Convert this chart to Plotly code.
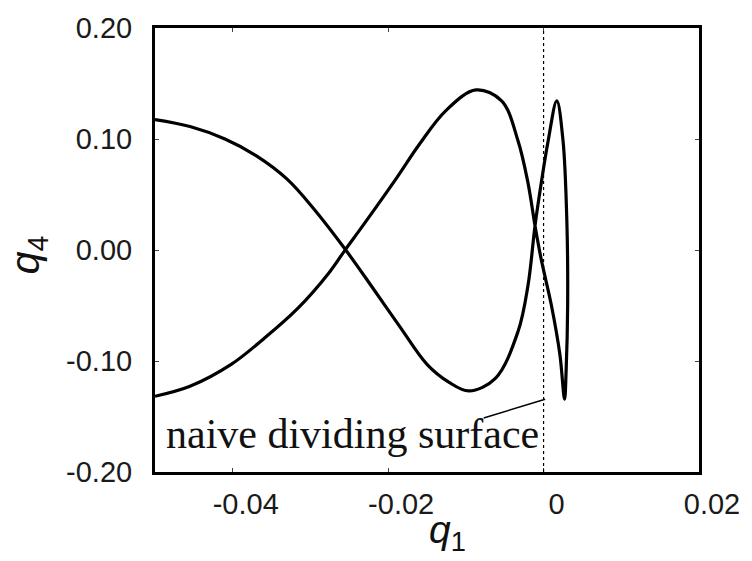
import plotly.graph_objects as go

# Trajectory in the (q1, q4) plane, traced as one continuous path:
# upper-left branch -> lower lobe -> narrow loop -> upper lobe -> lower-left branch
q1 = [-0.0500, -0.0455, -0.0410, -0.0370, -0.0330, -0.0295, -0.0255,
      -0.0220, -0.0185, -0.0150, -0.0122, -0.0096, -0.0062, -0.0033,
      -0.0020, -0.0011, -0.0003, 0.0006, 0.0017, 0.0025, 0.0030,
      0.0031, 0.0029, 0.0027, 0.0021, 0.0010, -0.0003, -0.0011,
      -0.0020, -0.0033, -0.0054, -0.0087, -0.0126, -0.0160, -0.0189,
      -0.0233, -0.0255, -0.0275, -0.0317, -0.0360, -0.0402, -0.0455, -0.0500]
q4 = [0.1175, 0.1112, 0.1000, 0.0850, 0.0638, 0.0365, 0.0004,
      -0.0340, -0.0690, -0.1030, -0.1190, -0.1270, -0.1156, -0.0737,
      -0.0317, 0.0219, 0.0603, 0.0987, 0.1344, 0.0987, 0.0246,
      -0.0496, -0.1094, -0.1344, -0.0942, -0.0496, -0.0085, 0.0219,
      0.0603, 0.0987, 0.1344, 0.1442, 0.1254, 0.0950, 0.0650,
      0.0215, 0.0004, -0.0195, -0.0531, -0.0799, -0.1031, -0.1228, -0.1318]

x_tick_vals = [-0.04, -0.02, 0, 0.02]
x_tick_text = ["-0.04", "-0.02", "0", "0.02"]
y_tick_vals = [0.20, 0.10, 0.00, -0.10, -0.20]
y_tick_text = ["0.20", "0.10", "0.00", "-0.10", "-0.20"]

x_range = [-0.05, 0.02]
y_range = [-0.20, 0.20]

surface_q1 = 0.0
label_text = "naive dividing surface"
label_pos = (-0.0489, -0.1655)
leader_start = (-0.0077, -0.1513)
leader_end = (0.0002, -0.1344)

fig = go.Figure()

fig.add_trace(go.Scatter(
    x=q1, y=q4, mode="lines",
    line=dict(color="black", width=3.2, shape="spline", smoothing=1.0),
    showlegend=False, hoverinfo="skip",
))

# dotted line marking the naive dividing surface
fig.add_shape(type="line", xref="x", yref="y",
              x0=surface_q1, x1=surface_q1, y0=y_range[0], y1=y_range[1],
              line=dict(color="black", width=1.2, dash="dot"))

# leader from the label to the dividing surface
fig.add_shape(type="line", xref="x", yref="y",
              x0=leader_start[0], y0=leader_start[1],
              x1=leader_end[0], y1=leader_end[1],
              line=dict(color="black", width=1.5))

fig.add_annotation(x=label_pos[0], y=label_pos[1], xref="x", yref="y",
                   text=label_text, showarrow=False,
                   xanchor="left", yanchor="middle",
                   font=dict(family="Liberation Serif", size=42, color="#111"))

axis_common = dict(
    showline=True, linecolor="black", linewidth=3, mirror="ticks",
    ticks="inside", ticklen=4, tickwidth=1, tickcolor="#444",
    showgrid=False, zeroline=False,
    tickfont=dict(family="Liberation Sans", size=29, color="#1a1a1a"),
)

fig.update_xaxes(range=x_range, tickvals=x_tick_vals, ticktext=x_tick_text,
                 ticklabelshift=13, ticklabelstandoff=4, **axis_common)
fig.update_yaxes(range=y_range, tickvals=y_tick_vals, ticktext=y_tick_text,
                 ticklabelstandoff=14, **axis_common)

# axis titles
fig.add_annotation(text="<i>q</i><sub>1</sub>", xref="paper", yref="paper",
                   x=0.537, y=-0.137, xanchor="center", yanchor="middle",
                   showarrow=False,
                   font=dict(family="Liberation Sans", size=39, color="#111"))
fig.add_annotation(text="<i>q</i><sub>4</sub>", xref="paper", yref="paper",
                   x=-0.232, y=0.49, xanchor="center", yanchor="middle",
                   textangle=-90, showarrow=False,
                   font=dict(family="Liberation Sans", size=41, color="#111"))

fig.update_layout(
    width=752, height=561,
    margin=dict(l=155, r=52, t=23, b=89),
    paper_bgcolor="white", plot_bgcolor="white",
)

fig.write_html("out.html")
